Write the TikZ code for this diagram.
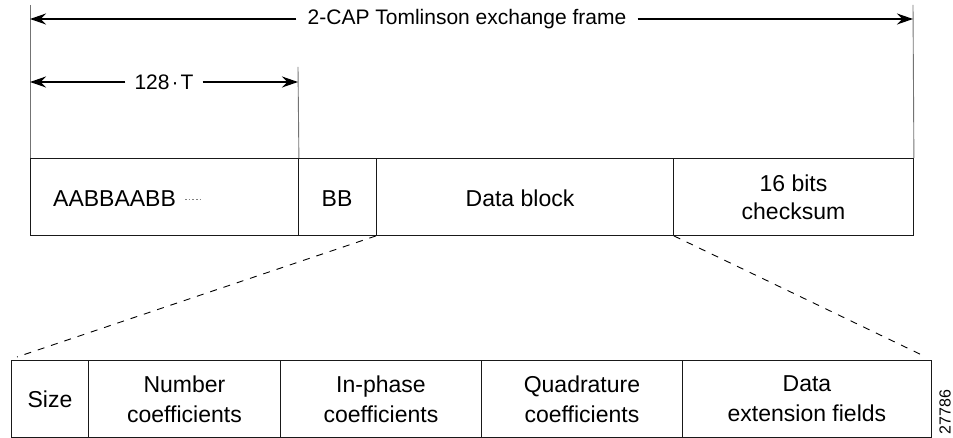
\documentclass[tikz,border=0pt]{standalone}
\usepackage{fontspec}
\setmainfont{Liberation Sans}
\usetikzlibrary{arrows.meta}
\newcommand{\lblfont}{\fontsize{21}{28}\selectfont}
\newcommand{\rowfont}{\fontsize{23}{30}\selectfont}
\tikzset{
  cell/.style={draw=black!90, line width=0.9pt, minimum width=#1, minimum height=77pt,
    inner sep=0pt, anchor=north west, align=center, font=\rowfont},
  celltext/.style={inner sep=0pt, anchor=base, font=\rowfont},
  extline/.style={draw=black!55, line width=0.9pt},
  dimarrow/.style={draw=black, line width=1.4pt, -{Stealth[length=16pt,width=11pt]}},
  dimlabel/.style={font=\lblfont, inner xsep=11pt, inner ysep=0pt},
  zoomline/.style={draw=black, line width=0.9pt, dash pattern=on 7pt off 7pt},
}
\begin{document}
\begin{tikzpicture}[x=1pt, y=-1pt]
  \useasboundingbox (0,0) rectangle (953,438);

  % upper frame
  \node[cell=268pt] (pre) at (30,158) {};
  \node[cell=78pt]  (bb)  at (298,158) {};
  \node[cell=297pt] (data) at (376,158) {};
  \node[cell=240pt, font=\fontsize{23}{28}\selectfont] (cks) at (673,158) {16 bits\\checksum};
  \node[celltext, anchor=base west] (pat) at (53,207) {AABBAABB};
  \node[celltext] (bbtxt) at (337,207) {BB};
  \node[celltext] (datatxt) at (520,207) {Data block};
  \coordinate (dotA) at (185,199);
  \coordinate (dotB) at (203,199);
  \draw[black!50, line width=0.9pt, dash pattern=on 1.5pt off 2.2pt] (dotA) -- (dotB);

  % extension lines
  \coordinate (lt) at (30,5);
  \coordinate (mt) at (298,67);
  \coordinate (rt) at (913,5);
  \draw[extline] (lt) -- (pre.north west);
  \draw[extline] (mt) -- (pre.north east);
  \draw[extline] (rt) -- (cks.north east);

  % dimension arrows
  \node[dimlabel] (frame) at (467,19) {2-CAP Tomlinson exchange frame};
  \coordinate (fl) at (30,19);
  \coordinate (fr) at (913,19);
  \draw[dimarrow] (frame.west) -- (fl);
  \draw[dimarrow] (frame.east) -- (fr);

  \node[dimlabel, inner xsep=9pt] (tt) at (164,82) {128\kern2pt·\kern2pt T};
  \coordinate (tl) at (30,82);
  \coordinate (tr) at (298,82);
  \draw[dimarrow] (tt.west) -- (tl);
  \draw[dimarrow] (tt.east) -- (tr);

  % lower frame: contents of the data block
  \node[cell=77pt]  (sz)  at (11,360) {Size};
  \node[cell=192pt] (num) at (88,360) {Number\\coefficients};
  \node[cell=201pt] (inph) at (280,360) {In-phase\\coefficients};
  \node[cell=201pt] (quad) at (481,360) {Quadrature\\coefficients};
  \node[cell=249pt] (ext) at (682,360) {Data\\extension fields};

  \coordinate (zl) at (17,357);
  \coordinate (zr) at (926,357);
  \draw[zoomline] (data.south west) -- (zl);
  \draw[zoomline] (data.south east) -- (zr);

  \node[rotate=90, font=\fontsize{16}{16}\selectfont, inner sep=0pt] (fig) at (945,412) {27786};
\end{tikzpicture}
\end{document}
